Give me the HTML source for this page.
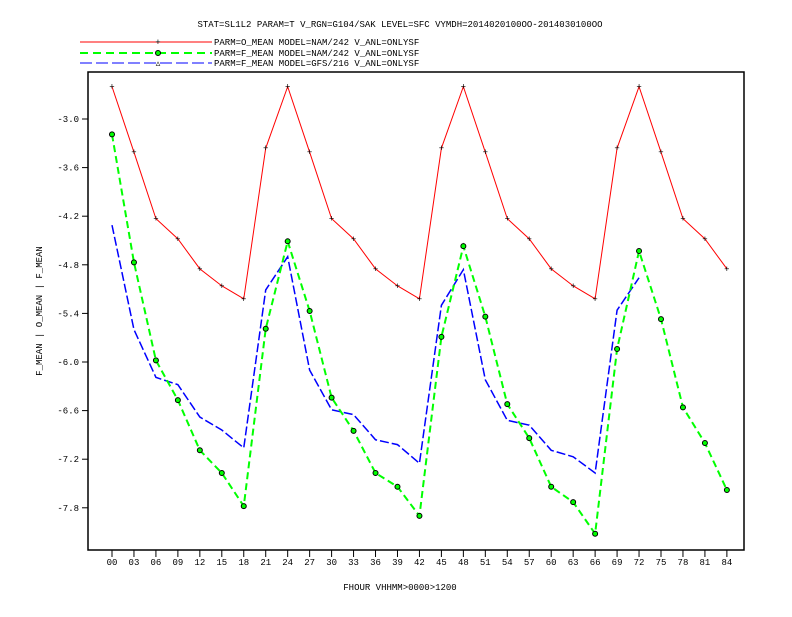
<!DOCTYPE html>
<html><head><meta charset="utf-8"><style>
body{margin:0;background:#fff}
svg text{font-family:"Liberation Mono",monospace;font-size:9px;fill:#000}
</style></head><body>
<svg id="chart" width="792" height="612" xmlns="http://www.w3.org/2000/svg">
<rect width="792" height="612" fill="#fff"/>
<text x="400" y="27" text-anchor="middle">STAT=SL1L2 PARAM=T V_RGN=G104/SAK LEVEL=SFC VYMDH=2014020100OO-2014030100OO</text>
<g>
<line x1="80" y1="42" x2="212" y2="42" stroke="#f00" stroke-width="1"/><text x="158" y="45" text-anchor="middle">+</text>
<text x="214" y="45">PARM=O_MEAN MODEL=NAM/242 V_ANL=ONLYSF</text>
<line x1="80" y1="53" x2="212" y2="53" stroke="#0f0" stroke-width="2" stroke-dasharray="8,5"/><circle cx="158" cy="53" r="2.5" fill="#0f0" stroke="#000"/>
<text x="214" y="56">PARM=F_MEAN MODEL=NAM/242 V_ANL=ONLYSF</text>
<line x1="80" y1="63" x2="212" y2="63" stroke="#00f" stroke-width="1" stroke-dasharray="12,4"/><text x="158" y="66" text-anchor="middle">▵</text>
<text x="214" y="66">PARM=F_MEAN MODEL=GFS/216 V_ANL=ONLYSF</text>
</g>
<rect x="88" y="72" width="656" height="478" fill="none" stroke="#000" stroke-width="1.5"/>
<g id="axes"></g>
<g id="series"></g>
<text transform="translate(42,311) rotate(-90)" text-anchor="middle">F_MEAN | O_MEAN | F_MEAN</text>
<text x="400" y="590" text-anchor="middle">FHOUR VHHMM&gt;0000&gt;1200</text>
</svg>
<script>
const categories=["00","03","06","09","12","15","18","21","24","27","30","33","36","39","42","45","48","51","54","57","60","63","66","69","72","75","78","81","84"];
const yTicks=[-3.0,-3.6,-4.2,-4.8,-5.4,-6.0,-6.6,-7.2,-7.8];
const oMeanNam=[-2.60,-3.41,-4.23,-4.48,-4.85,-5.06,-5.22,-3.36,-2.60,-3.41,-4.23,-4.48,-4.85,-5.06,-5.22,-3.36,-2.60,-3.41,-4.23,-4.48,-4.85,-5.06,-5.22,-3.36,-2.60,-3.41,-4.23,-4.48,-4.85];
const fMeanNam=[-3.19,-4.77,-5.98,-6.47,-7.09,-7.37,-7.78,-5.59,-4.51,-5.37,-6.44,-6.85,-7.37,-7.54,-7.90,-5.69,-4.57,-5.44,-6.52,-6.94,-7.54,-7.73,-8.12,-5.84,-4.63,-5.47,-6.56,-7.00,-7.58];
const fMeanGfs=[-4.31,-5.60,-6.19,-6.28,-6.68,-6.84,-7.06,-5.11,-4.70,-6.10,-6.59,-6.65,-6.96,-7.02,-7.25,-5.30,-4.86,-6.22,-6.72,-6.78,-7.09,-7.17,-7.37,-5.36,-4.96];
const NS="http://www.w3.org/2000/svg";
function xScale(i){return 112+i*21.96;}
function yScale(v){return 119+(-3-v)*81;}
const axes=document.getElementById('axes'), ser=document.getElementById('series');
function mk(tag,attrs,parent){const e=document.createElementNS(NS,tag);for(const k in attrs)e.setAttribute(k,attrs[k]);parent.appendChild(e);return e;}
categories.forEach((c,i)=>{
  const x=xScale(i);
  const t=mk('line',{x1:x,y1:550,x2:x,y2:557,stroke:'#000'},axes);
  
  
  const l=mk('text',{x:x,y:565,'text-anchor':'middle'},axes);
  
  
  l.textContent=c;
});
yTicks.forEach(v=>{
  const y=yScale(v);
  const t=mk('line',{x1:82,y1:y,x2:88,y2:y,stroke:'#000'},axes);
  
  
  const l=mk('text',{x:79,y:y+3,'text-anchor':'end'},axes);
  
  
  l.textContent=v.toFixed(1);
});
function line(vals,color,w,dash,name){
  const p=mk('polyline',{points:vals.map((v,i)=>xScale(i)+','+yScale(v)).join(' '),fill:'none',stroke:color,'stroke-width':w},ser);
  if(dash)p.setAttribute('stroke-dasharray',dash);
  
  
}
line(fMeanGfs,'#00f',1.5,'9,3','series-f-mean-gfs');
line(fMeanNam,'#0f0',2,'7,4','series-f-mean-nam');
line(oMeanNam,'#f00',1,null,'series-o-mean-nam');
oMeanNam.forEach((v,i)=>{
  const t=mk('text',{x:xScale(i),y:yScale(v)+3,'text-anchor':'middle'},ser);
  
  
  t.textContent='+';
});
fMeanNam.forEach((v,i)=>{
  const c=mk('circle',{cx:xScale(i),cy:yScale(v),r:2.5,fill:'#0f0',stroke:'#000','stroke-width':1},ser);
  
  
});
</script>
</body></html>
